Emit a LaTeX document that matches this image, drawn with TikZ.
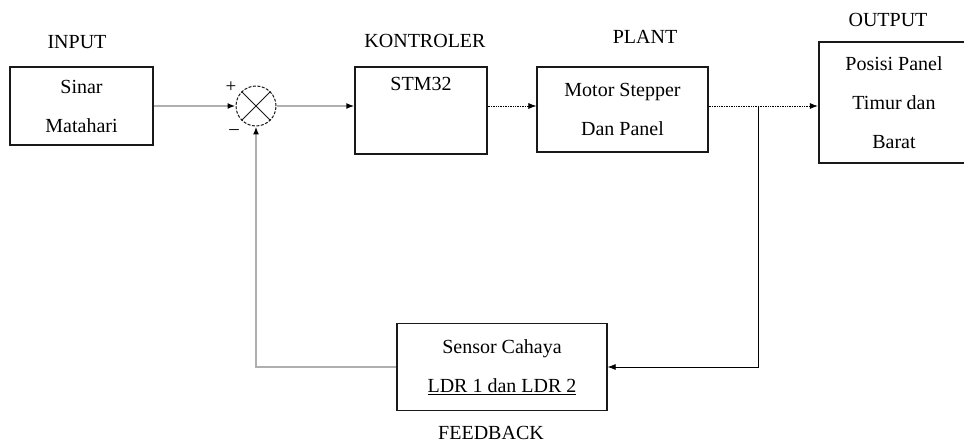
\documentclass[tikz,border=0pt]{standalone}
\usepackage{fontspec}
\setmainfont{Liberation Serif}
\usepackage{tikz}
\usetikzlibrary{positioning,arrows.meta}
\usepackage{xcolor}
\definecolor{linegray}{RGB}{175,175,175}
\definecolor{boxblack}{RGB}{25,25,25}

\begin{document}
\begin{tikzpicture}[x=1pt, y=-1pt,
    every node/.style={font=\fontsize{20}{39}\selectfont},
    block/.style={draw=boxblack, line width=1.3pt, inner sep=0pt, align=center},
    sig/.style={-{Latex[length=8pt,width=6pt]}, line width=0.7pt},
    fb/.style={linegray, line width=2pt, -{Latex[color=black,length=8pt,width=6pt]}}]
    \useasboundingbox (0,0) rectangle (964,446);
    % Blocks
    \node[block, minimum width=143pt, minimum height=78pt] (input) at (81.5,106) {Sinar\\Matahari};
    \node[block, minimum width=132pt, minimum height=87pt] (ctrl) at (421,110.5) {};
    \node[below=7pt of ctrl.north] (ctrltxt) {STM32};
    \node[block, minimum width=171pt, minimum height=85pt] (plant) at (622.5,109.5) {Motor Stepper\\Dan Panel};
    \node[block, line width=2.4pt, minimum width=150pt, minimum height=121pt] (output) at (894,102.5) {Posisi Panel\\Timur dan\\Barat};
    \node[block, minimum width=210pt, minimum height=87pt] (sensor) at (502,367) {Sensor Cahaya\\\underline{LDR 1 dan LDR 2}};
    % Labels
    \node (inlbl) at (77,42) {INPUT};
    \node (ctrllbl) at (425,41) {KONTROLER};
    \node (plantlbl) at (645,37) {PLANT};
    \node (outlbl) at (888,20) {OUTPUT};
    \node (fblbl) at (491,433) {FEEDBACK};
    % Summing junction
    \node[draw=boxblack, circle, minimum size=40pt, inner sep=0pt, line width=1pt,
          dash pattern=on 3pt off 1.5pt] (sum) at (256,106) {};
    \draw[boxblack, line width=0.8pt] (sum.north west) -- (sum.south east)
        (sum.north east) -- (sum.south west);
    \node[font=\fontsize{19}{19}\selectfont] (plus) at (231,87) {+};
    \node[font=\fontsize{19}{19}\selectfont] (minus) at (234,132) {--};
    % Connectors
    \draw[fb] (input.east |- sum.west) -- (sum.west);
    \draw[fb] (sum.east) -- (sum.east -| ctrl.west);
    \draw[sig, densely dotted] (sum.east -| ctrl.east) -- (sum.east -| plant.west);
    \draw[sig, densely dotted] (sum.east -| plant.east) -- (sum.east -| output.west);
    \coordinate (branch) at (758,106);
    \draw[sig] (branch) |- (sensor.east);
    \draw[fb] (sensor.west) -| (sum.south);
\end{tikzpicture}
\end{document}
